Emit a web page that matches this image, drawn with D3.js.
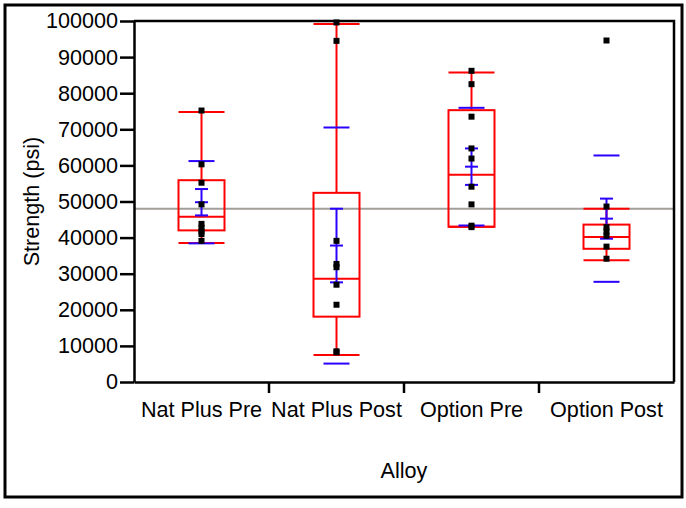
<!DOCTYPE html>
<html>
<head>
<meta charset="utf-8">
<script src="https://cdn.jsdelivr.net/npm/d3@7"></script>
<style>
  body { margin: 0; background: #fff; }
  text { font-family: Arial, "Liberation Sans", sans-serif; fill: #000; }
</style>
</head>
<body>
<svg id="chart"></svg>
<script>
// Categories
const groups = ['Nat Plus Pre', 'Nat Plus Post', 'Option Pre', 'Option Post'];

// Raw strength values (psi) per group
const natPlusPre = [75200, 60300, 55200, 49200, 43800, 42700, 41700, 41000, 39100];
const natPlusPost = [99600, 94500, 39100, 32700, 31800, 26950, 21400, 8500, 8200];
const optionPre = [86200, 82500, 73500, 64700, 61900, 54100, 49200, 43300, 42900];
const optionPost = [94600, 48600, 42900, 41700, 40500, 37500, 34150];
const points = [natPlusPre, natPlusPost, optionPre, optionPost];

// Box plot summary (as drawn)
const q1 = [42000, 18100, 43000, 36900];
const median = [45800, 28600, 57400, 40200];
const q3 = [55900, 52400, 75300, 43600];
const whiskerLow = [38500, 7500, 43000, 33700];
const whiskerHigh = [74800, 99200, 85700, 48000];

// Means, std dev, std error
const means = [49800, 37800, 59650, 45250];
const sd = [11400, 32700, 16300, 17500];
const se = [3650, 10200, 5050, 5550];

const grandMean = 48000;
const yTicks = [0, 10000, 20000, 30000, 40000, 50000, 60000, 70000, 80000, 90000, 100000];

const width = 686;
const height = 508;
const plot = { left: 134, right: 674, top: 21, bottom: 382 };
const red = '#ff0000';
const blue = '#2b00ff';
const fontSize = '21.6px';

const svg = d3.select('#chart')
    .attr('width', width)
    .attr('height', height);

// Outer frame
svg.append('rect')
    .attr('x', 5)
    .attr('y', 5)
    .attr('width', 677)
    .attr('height', 492)
    .attr('fill', 'white')
    .attr('stroke', 'black')
    .attr('stroke-width', 3);

const x = d3.scaleBand()
    .domain(groups)
    .range([plot.left, plot.right]);

const y = d3.scaleLinear()
    .domain([0, 100000])
    .range([plot.bottom, plot.top]);

// Grand mean line
svg.append('line')
    .attr('x1', plot.left)
    .attr('x2', plot.right)
    .attr('y1', y(grandMean))
    .attr('y2', y(grandMean))
    .attr('stroke', '#a29e99')
    .attr('stroke-width', 2);

const boxW = 46;
const sdW = 26;
const seW = 13;

groups.forEach((g, i) => {
    const cx = x(g) + x.bandwidth() / 2;
    const grp = svg.append('g');

    // Whiskers
    [[q3[i], whiskerHigh[i]], [q1[i], whiskerLow[i]]].forEach(([a, b]) => {
        grp.append('line')
            .attr('x1', cx).attr('x2', cx)
            .attr('y1', y(a)).attr('y2', y(b))
            .attr('stroke', red).attr('stroke-width', 2);
        grp.append('line')
            .attr('x1', cx - boxW / 2).attr('x2', cx + boxW / 2)
            .attr('y1', y(b)).attr('y2', y(b))
            .attr('stroke', red).attr('stroke-width', 2);
    });

    // Box
    grp.append('rect')
        .attr('x', cx - boxW / 2)
        .attr('y', y(q3[i]))
        .attr('width', boxW)
        .attr('height', y(q1[i]) - y(q3[i]))
        .attr('fill', 'none')
        .attr('stroke', red)
        .attr('stroke-width', 2);
    grp.append('line')
        .attr('x1', cx - boxW / 2).attr('x2', cx + boxW / 2)
        .attr('y1', y(median[i])).attr('y2', y(median[i]))
        .attr('stroke', red).attr('stroke-width', 2);

    // Std dev lines
    [means[i] + sd[i], means[i] - sd[i]].forEach(v => {
        grp.append('line')
            .attr('x1', cx - sdW / 2).attr('x2', cx + sdW / 2)
            .attr('y1', y(v)).attr('y2', y(v))
            .attr('stroke', blue).attr('stroke-width', 2);
    });

    // Mean error bars
    grp.append('line')
        .attr('x1', cx).attr('x2', cx)
        .attr('y1', y(means[i] + se[i])).attr('y2', y(means[i] - se[i]))
        .attr('stroke', blue).attr('stroke-width', 2);
    [means[i] + se[i], means[i], means[i] - se[i]].forEach(v => {
        grp.append('line')
            .attr('x1', cx - seW / 2).attr('x2', cx + seW / 2)
            .attr('y1', y(v)).attr('y2', y(v))
            .attr('stroke', blue).attr('stroke-width', 2);
    });

    // Data points
    grp.selectAll('rect.pt')
        .data(points[i])
        .enter()
        .append('rect')
        .attr('class', 'pt')
        .attr('x', cx - 3)
        .attr('y', d => y(d) - 3)
        .attr('width', 6)
        .attr('height', 6)
        .attr('fill', 'black');
});

// Y axis
const yAxis = svg.append('g')
    .attr('transform', `translate(${plot.left},0)`)
    .call(d3.axisLeft(y)
        .tickValues(yTicks)
        .tickFormat(d3.format('d'))
        .tickSize(14)
        .tickSizeOuter(0)
        .tickPadding(2));
yAxis.selectAll('text').style('font-size', fontSize);
yAxis.selectAll('line').attr('stroke-width', 2.5);
yAxis.select('.domain').attr('stroke-width', 2.5);

// X axis (labels at band centres, ticks between bands)
const xAxis = svg.append('g')
    .attr('transform', `translate(0,${plot.bottom})`)
    .call(d3.axisBottom(x)
        .tickSize(0)
        .tickSizeOuter(0)
        .tickPadding(20));
xAxis.selectAll('text').style('font-size', fontSize);
xAxis.select('.domain').attr('stroke-width', 2.5);
groups.slice(1).forEach(g => {
    xAxis.append('line')
        .attr('x1', x(g)).attr('x2', x(g))
        .attr('y1', 0).attr('y2', 11)
        .attr('stroke', 'black')
        .attr('stroke-width', 2.5);
});

// Top and right frame of plot
svg.append('path')
    .attr('d', `M${plot.left},${plot.top}H${plot.right}V${plot.bottom}`)
    .attr('fill', 'none')
    .attr('stroke', 'black')
    .attr('stroke-width', 2.5);

// Axis titles
svg.append('text')
    .attr('x', (plot.left + plot.right) / 2)
    .attr('y', 478)
    .attr('text-anchor', 'middle')
    .style('font-size', fontSize)
    .text('Alloy');

svg.append('text')
    .attr('transform', `translate(39,${(plot.top + plot.bottom) / 2}) rotate(-90)`)
    .attr('text-anchor', 'middle')
    .style('font-size', fontSize)
    .text('Strength (psi)');
</script>
</body>
</html>
